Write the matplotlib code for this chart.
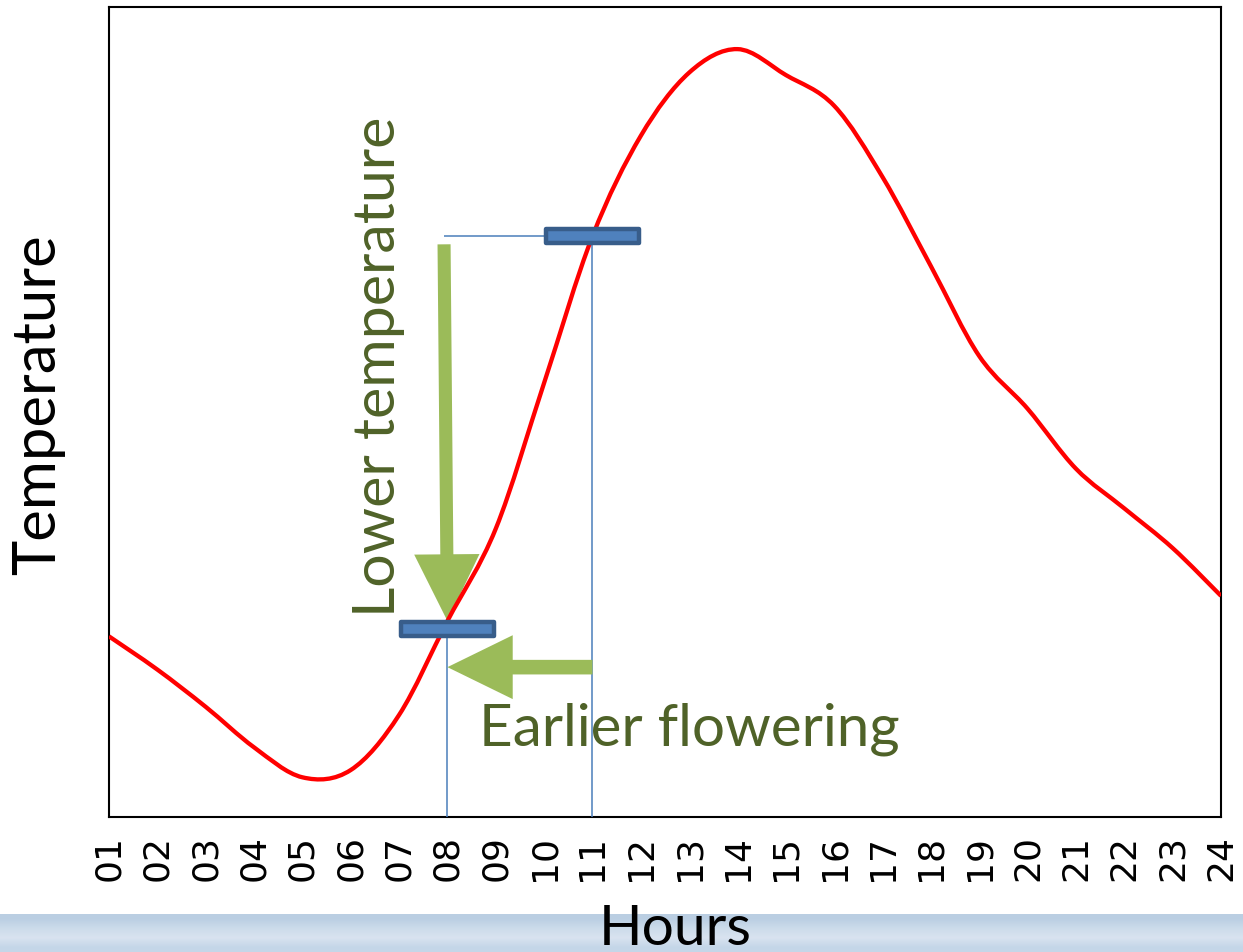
import numpy as np
import matplotlib.pyplot as plt
from matplotlib.path import Path
from matplotlib.patches import PathPatch, Rectangle

plt.rcParams['font.family'] = ['Lato', 'DejaVu Sans']

# daily temperature course (relative units, 0-100 scale)
hours = list(range(1, 25))
hour_labels = [f"{h:02d}" for h in hours]
temperature = [22.3, 18.2, 13.6, 8.6, 4.9, 5.8, 12.6, 24.2, 35.6, 53.6, 71.7, 84.1,
               91.9, 94.8, 91.6, 87.8, 79.0, 68.0, 56.9, 50.4, 43.0, 38.1, 33.2, 27.3]

# flowering threshold: usual level vs. lowered level
flower_hours = [11, 8]
flower_temps = [71.7, 23.2]
arrow_level = 18.5   # height of the "earlier" arrow

RED = '#ff0000'
BAR_FACE = '#4f81bd'
BAR_EDGE = '#385d8a'
THIN = '#4a7ebb'
GREEN = '#9bbb59'
TEXT_GREEN = '#4f6228'


def smooth_path(x, y):
    # Catmull-Rom style bezier through the hourly points (like a smoothed line in Excel)
    pts = np.column_stack([x, y]).astype(float)
    ext = np.vstack([pts[0], pts, pts[-1]])
    verts = [pts[0]]
    codes = [Path.MOVETO]
    for i in range(1, len(ext) - 2):
        p0, p1, p2, p3 = ext[i - 1], ext[i], ext[i + 1], ext[i + 2]
        verts += [p1 + (p2 - p0) / 6, p2 - (p3 - p1) / 6, p2]
        codes += [Path.CURVE4] * 3
    return Path(verts, codes)


fig = plt.figure(figsize=(12.43, 9.53), dpi=100)
ax = fig.add_axes([109 / 1243, 135 / 953, 1112 / 1243, 810 / 953])

# pale blue strip along the bottom edge
band = fig.add_axes([0, 0, 1, 38 / 953], zorder=-1)
strip = np.array([[0.73, 0.81, 0.89],
                  [0.80, 0.86, 0.92],
                  [0.85, 0.89, 0.94],
                  [0.77, 0.84, 0.91]])[:, None, :]
band.imshow(strip, aspect='auto', interpolation='bilinear', extent=(0, 1, 0, 1))
band.axis('off')

# temperature curve
ax.add_patch(PathPatch(smooth_path(hours, temperature), facecolor='none',
                       edgecolor=RED, lw=3.1, zorder=5))

# guide lines from the thresholds down to the hour axis
ax.vlines(flower_hours, 0, flower_temps, color=THIN, lw=1.1, zorder=4)
ax.hlines(flower_temps[0], 7.93, flower_hours[0], color=THIN, lw=1.1, zorder=4)

# threshold bars
for h, t in zip(flower_hours, flower_temps):
    ax.add_patch(Rectangle((h - 0.97, t - 0.85), 1.94, 1.7, facecolor=BAR_FACE,
                           edgecolor=BAR_EDGE, lw=3.2, joinstyle='round', zorder=6))

# arrows
ax.annotate('', xy=(flower_hours[1], flower_temps[1] + 1.0),
            xytext=(7.93, flower_temps[0] - 1.0),
            arrowprops=dict(arrowstyle='simple,head_length=4.8,head_width=4.7,tail_width=0.94',
                            color=GREEN, lw=0, shrinkA=0, shrinkB=0, mutation_scale=10),
            zorder=4.5)
ax.annotate('', xy=(flower_hours[1], arrow_level), xytext=(flower_hours[0], arrow_level),
            arrowprops=dict(arrowstyle='simple,head_length=4.7,head_width=4.6,tail_width=1.05',
                            color=GREEN, lw=0, shrinkA=0, shrinkB=0, mutation_scale=10),
            zorder=4.5)

ax.text(6.57, 24.8, 'Lower temperature', rotation=90, ha='center', va='bottom',
        fontsize=42.5, color=TEXT_GREEN, zorder=3)
ax.text(8.66, 9.0, 'Earlier flowering', ha='left', va='baseline',
        fontsize=42, color=TEXT_GREEN, zorder=3)

ax.set_xlim(1, 24)
ax.set_ylim(0, 100)
ax.set_xticks(hours)
ax.set_xticklabels(hour_labels, rotation=90, fontsize=26, family='DejaVu Sans')
ax.set_yticks([])
ax.tick_params(length=0, pad=12)
for s in ax.spines.values():
    s.set_linewidth(1.5)
    s.set_color('black')

ax.set_xlabel('Hours', fontsize=41, va='center')
ax.xaxis.set_label_coords(0.509, -0.138)
ax.set_ylabel('Temperature', fontsize=43, va='center')
ax.yaxis.set_label_coords(-0.064, 0.51)

fig.savefig('out.png', dpi=100)
